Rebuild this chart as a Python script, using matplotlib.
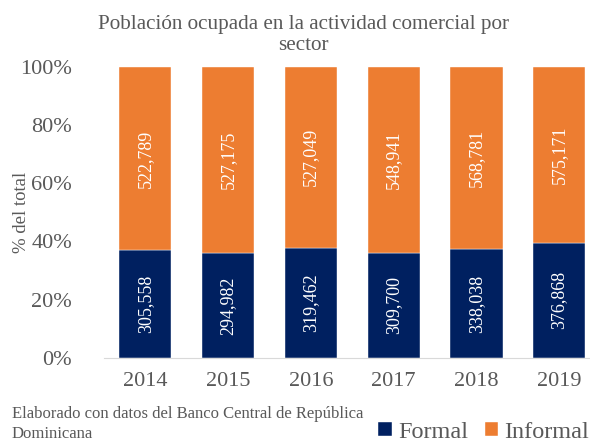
import numpy as np
import matplotlib.pyplot as plt

years = ['2014', '2015', '2016', '2017', '2018', '2019']
formal = [305558, 294982, 319462, 309700, 338038, 376868]
informal = [522789, 527175, 527049, 548941, 568781, 575171]


def main():
    plt.rcParams['font.family'] = ['Liberation Serif', 'DejaVu Serif']
    gray = '#595959'
    navy = '#002060'
    orange = '#ED7D31'

    f = np.array(formal, dtype=float)
    inf = np.array(informal, dtype=float)
    tot = f + inf
    pf = f / tot * 100
    pi = inf / tot * 100
    x = np.arange(len(years))

    fig = plt.figure(figsize=(5.9, 4.44), dpi=100)
    ax = fig.add_axes([104 / 590, 86.3 / 444, 496.6 / 590, 291 / 444])

    b1 = ax.bar(x, pf, 0.63, color=navy, label='Formal', edgecolor='white', linewidth=0.3)
    b2 = ax.bar(x, pi, 0.63, bottom=pf, color=orange, label='Informal', edgecolor='white', linewidth=0.3)

    for i in range(len(years)):
        ax.text(x[i], pf[i] / 2, f'{formal[i]:,}', rotation=90, ha='center', va='center',
                color='white', fontsize=13)
        ax.text(x[i], pf[i] + pi[i] / 2, f'{informal[i]:,}', rotation=90, ha='center', va='center',
                color='white', fontsize=13)

    ax.set_xlim(-0.5, 5.5)
    ax.set_ylim(0, 100)
    ax.set_yticks(range(0, 101, 20))
    ax.set_yticklabels([f'{v}%' for v in range(0, 101, 20)])
    ax.set_xticks(x)
    ax.set_xticklabels(years)
    ax.tick_params(length=0, labelsize=16, labelcolor=gray)
    ax.tick_params(axis='y', pad=23)
    ax.tick_params(axis='x', pad=10)
    for s in ['top', 'right', 'left']:
        ax.spines[s].set_visible(False)
    ax.spines['bottom'].set_color('#D9D9D9')
    ax.set_ylabel('% del total', fontsize=13.5, color=gray)
    ax.yaxis.set_label_coords(-74 / 496.6, 0.5)

    fig.text(303 / 590, 1 - 35 / 444, 'Población ocupada en la actividad comercial por\nsector',
             ha='center', va='center', fontsize=15.2, color=gray, linespacing=1.2)
    fig.text(12 / 590, 1 - 424 / 444, 'Elaborado con datos del Banco Central de República\nDominicana',
             ha='left', va='center', fontsize=12, color=gray, linespacing=1.35)

    leg = fig.legend(handles=[b1, b2], loc='center right', bbox_to_anchor=(589 / 590, 1 - 432 / 444),
                     ncol=2, frameon=False, fontsize=17.5, handlelength=0.55, handleheight=0.55,
                     handletextpad=0.25, columnspacing=0.7, borderpad=0, borderaxespad=0)
    for t in leg.get_texts():
        t.set_color(gray)

    fig.savefig('out.png', dpi=100)


if __name__ == "__main__":
    main()
